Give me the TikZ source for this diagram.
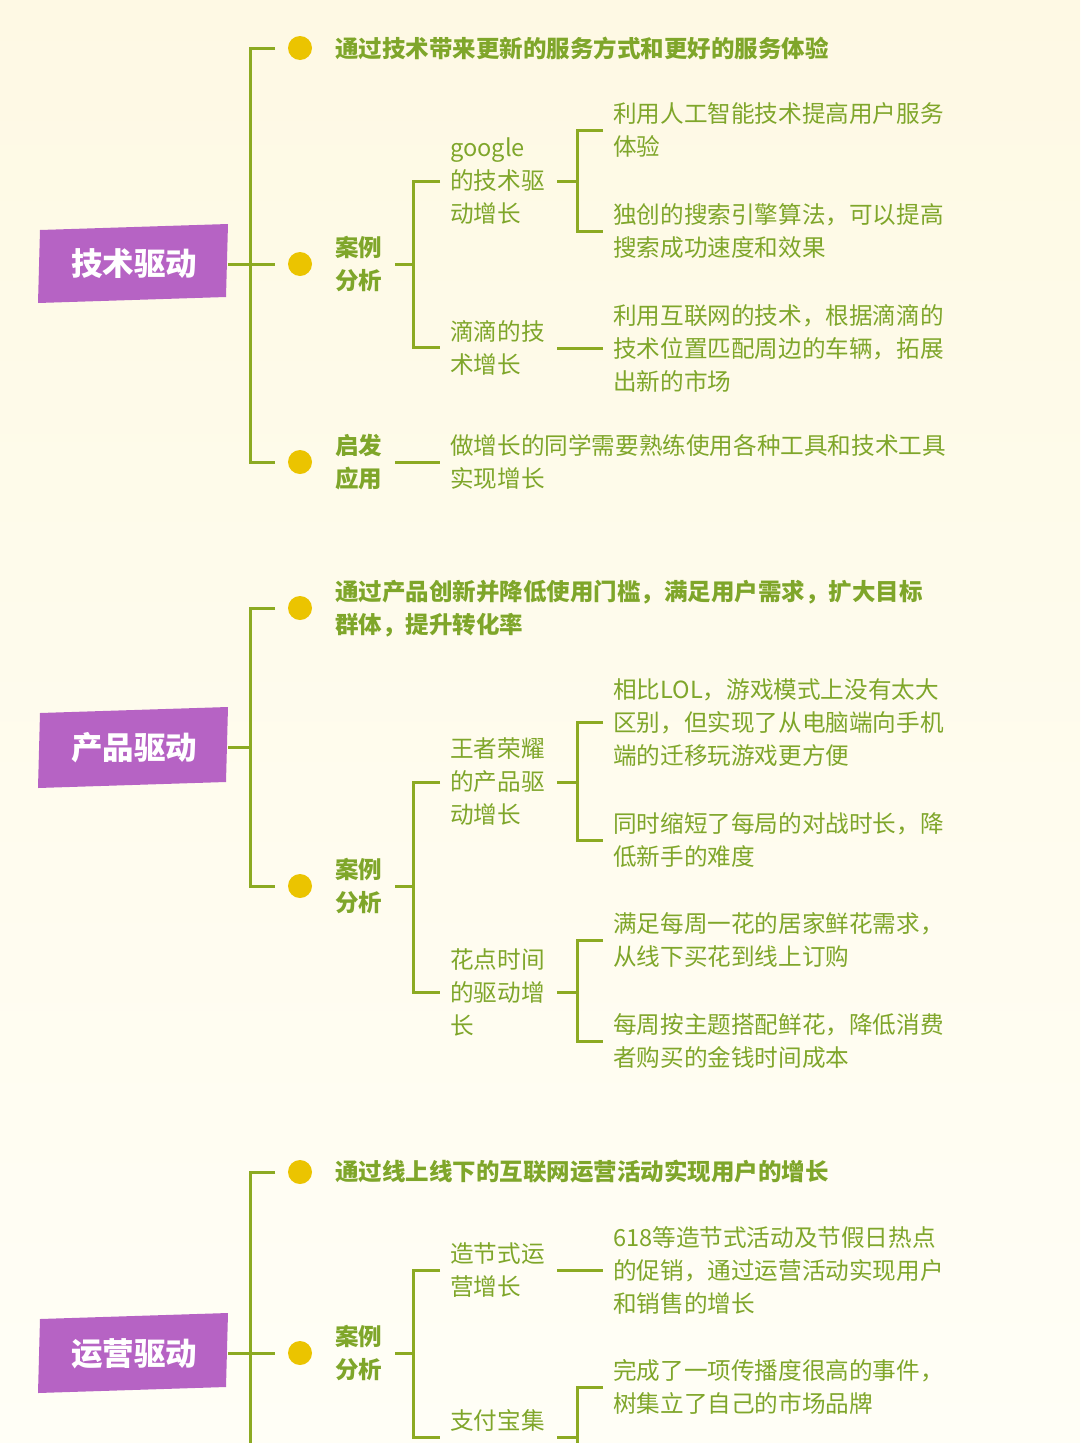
\documentclass[tikz,border=0pt]{standalone}
\usepackage{fontspec}
\setmainfont{Noto Sans CJK SC}
\definecolor{bgtop}{HTML}{FEF9E4}
\definecolor{bgbot}{HTML}{FFFEF6}
\definecolor{ln}{HTML}{8CAA22}
\definecolor{tx}{HTML}{7FA62A}
\definecolor{pur}{HTML}{B663C4}
\definecolor{dot}{HTML}{EBC400}
\begin{document}
\begin{tikzpicture}[x=1pt,y=-1pt,
  conn/.style={draw=ln,line width=3pt},
  t1/.style={anchor=west,inner sep=0,align=left,text=tx,font=\fontsize{23.5}{33}\selectfont\bfseries},
  t2/.style={anchor=west,inner sep=0,align=left,text=tx,font=\fontsize{23.6}{33}\selectfont},
  root/.style={text=white,font=\fontsize{31.5}{34}\selectfont\bfseries},
  dt/.style={circle,fill=dot,minimum size=24pt,inner sep=0}]
\shade[top color=bgtop,bottom color=bgbot] (0,0) rectangle (1080,1443);
\useasboundingbox (0,0) rectangle (1080,1443);
% ===== section 1
\fill[pur] (40,230)--(228,224)--(226,297)--(38,303)--cycle;
\node[root] (r1) at (134,264) {技术驱动};
\node[dt] (d11) at (300,48) {};
\node[dt] (d12) at (300,264) {};
\node[dt] (d13) at (300,462) {};
\node[t1] (a11) at (335,48) {通过技术带来更新的服务方式和更好的服务体验};
\node[t1] (a12) at (335,264) {案例\\分析};
\node[t1] (a13) at (335,462) {启发\\应用};
\draw[conn] (228,264)--(275,264);
\draw[conn] (275,48)--(250,48)--(250,462)--(275,462);
\node[t2] (g1) at (450,181) {google\\的技术驱\\动增长};
\node[t2] (g2) at (450,348) {滴滴的技\\术增长};
\draw[conn] (395,264)--(413,264);
\draw[conn] (440,181)--(413,181)--(413,347)--(440,347);
\node[t2] (g11) at (613,130) {利用人工智能技术提高用户服务\\体验};
\node[t2] (g12) at (613,231) {独创的搜索引擎算法，可以提高\\搜索成功速度和效果};
\node[t2] (g21) at (613,348) {利用互联网的技术，根据滴滴的\\技术位置匹配周边的车辆，拓展\\出新的市场};
\draw[conn] (557,181)--(577,181);
\draw[conn] (603,130)--(577,130)--(577,231)--(603,231);
\draw[conn] (557,348)--(603,348);
\node[t2] (h1) at (450,462) {做增长的同学需要熟练使用各种工具和技术工具\\实现增长};
\draw[conn] (395,462)--(440,462);
% ===== section 2
\fill[pur] (40,713)--(228,707)--(226,782)--(38,788)--cycle;
\node[root] (r2) at (134,748) {产品驱动};
\node[dt] (d21) at (300,608) {};
\node[dt] (d22) at (300,886) {};
\node[t1] (a21) at (335,609) {通过产品创新并降低使用门槛，满足用户需求，扩大目标\\群体，提升转化率};
\node[t1] (a22) at (335,886) {案例\\分析};
\draw[conn] (228,747)--(250,747);
\draw[conn] (275,608)--(250,608)--(250,886)--(275,886);
\node[t2] (p1) at (450,782) {王者荣耀\\的产品驱\\动增长};
\node[t2] (p2) at (450,992) {花点时间\\的驱动增\\长};
\draw[conn] (395,886)--(413,886);
\draw[conn] (440,782)--(413,782)--(413,992)--(440,992);
\node[t2] (p11) at (613,723) {相比LOL，游戏模式上没有太大\\区别，但实现了从电脑端向手机\\端的迁移玩游戏更方便};
\node[t2] (p12) at (613,840) {同时缩短了每局的对战时长，降\\低新手的难度};
\node[t2] (p21) at (613,940) {满足每周一花的居家鲜花需求，\\从线下买花到线上订购};
\node[t2] (p22) at (613,1041) {每周按主题搭配鲜花，降低消费\\者购买的金钱时间成本};
\draw[conn] (557,782)--(577,782);
\draw[conn] (603,722)--(577,722)--(577,840)--(603,840);
\draw[conn] (557,992)--(577,992);
\draw[conn] (603,940)--(577,940)--(577,1041)--(603,1041);
% ===== section 3
\fill[pur] (40,1319)--(228,1313)--(226,1387)--(38,1393)--cycle;
\node[root] (r3) at (134,1354) {运营驱动};
\node[dt] (d31) at (300,1172) {};
\node[dt] (d32) at (300,1353) {};
\node[t1] (a31) at (335,1172) {通过线上线下的互联网运营活动实现用户的增长};
\node[t1] (a32) at (335,1353) {案例\\分析};
\draw[conn] (228,1353)--(275,1353);
\draw[conn] (275,1172)--(250,1172)--(250,1443);
\node[t2] (o1) at (450,1270) {造节式运\\营增长};
\node[t2,anchor=base west] (o2) at (450,1429) {支付宝集};
\draw[conn] (395,1353)--(413,1353);
\draw[conn] (440,1270)--(413,1270)--(413,1437)--(440,1437);
\node[t2] (o11) at (613,1270) {618等造节式活动及节假日热点\\的促销，通过运营活动实现用户\\和销售的增长};
\node[t2] (o21) at (613,1387) {完成了一项传播度很高的事件，\\树集立了自己的市场品牌};
\draw[conn] (557,1270)--(603,1270);
\draw[conn] (557,1437)--(577,1437);
\draw[conn] (603,1387)--(577,1387)--(577,1443);
\end{tikzpicture}
\end{document}
